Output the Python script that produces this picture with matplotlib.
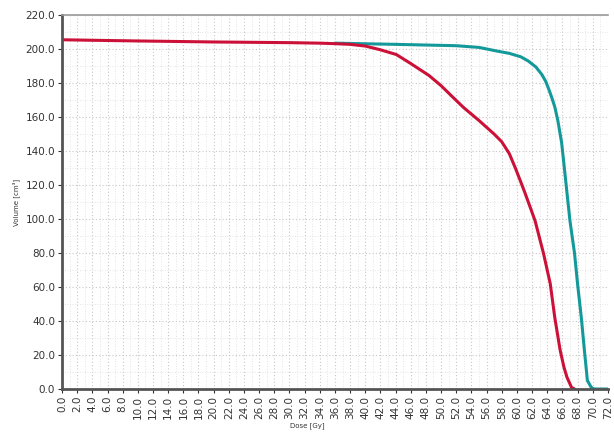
import matplotlib
matplotlib.use('Agg')
import matplotlib.pyplot as plt
from matplotlib.ticker import MultipleLocator, FormatStrFormatter

# dose (Gy) vs volume (cm3)
red_dose = [0, 4, 10, 20, 30, 34, 36, 38, 40, 42, 44.1, 46, 48.4, 50, 51.6, 53, 55, 57,
            58, 59, 59.8, 60.5, 61.1, 62.4, 63.5, 64.4, 65, 65.7, 66.2, 66.6, 67.2, 67.6]
red_vol = [205.5, 205.2, 204.8, 204.2, 203.8, 203.5, 203.2, 202.8, 201.8, 199.6, 196.8, 191.5,
           184.5, 178.5, 171.5, 165.5, 158, 150, 145.5, 138.5, 130, 122, 115, 99, 80, 62, 42,
           23, 13, 7, 1, 0]

teal_dose = [36, 44, 52, 55, 57.2, 59, 60.5, 61.5, 62.5, 63.3, 63.8, 64.2, 64.6, 65, 65.4,
             65.9, 66.3, 67, 67.6, 68, 68.5, 68.9, 69.3, 69.8, 70.2, 72]
teal_vol = [203.5, 202.8, 202, 201, 199, 197.5, 195.5, 193, 189.5, 185, 181, 176.5, 171.5,
            166, 158, 145, 128.4, 99, 80, 62, 42, 23, 5, 1, 0, 0]

x_ticks = [i * 2.0 for i in range(37)]
y_ticks = [i * 20.0 for i in range(12)]

fig = plt.figure(figsize=(6.14, 4.32), dpi=100)
ax = fig.add_axes([0.101, 0.0995, 0.889, 0.8655])

ax.plot(teal_dose, teal_vol, color='#14999a', lw=2.2, solid_capstyle='round',
        solid_joinstyle='round')
ax.plot(red_dose, red_vol, color='#cc1138', lw=2.2, solid_capstyle='round',
        solid_joinstyle='round')

ax.set_xlim(0, 72)
ax.set_ylim(0, 220)
ax.set_xticks(x_ticks)
ax.set_yticks(y_ticks)
ax.xaxis.set_minor_locator(MultipleLocator(1))
ax.yaxis.set_minor_locator(MultipleLocator(10))
ax.xaxis.set_major_formatter(FormatStrFormatter('%.1f'))
ax.yaxis.set_major_formatter(FormatStrFormatter('%.1f'))
ax.tick_params(axis='x', labelrotation=90, labelsize=7.5, length=3, pad=2, colors='#333333')
ax.tick_params(axis='y', labelsize=7.5, length=3, pad=2, colors='#333333')
ax.tick_params(which='minor', length=0)

ax.grid(True, which='major', color='#c8c8c8', ls=(0, (1, 2)), lw=0.8)
ax.grid(True, which='minor', color='#dcdcdc', ls=(0, (1, 2)), lw=0.6)
ax.set_axisbelow(True)

for s in ['left', 'bottom']:
    ax.spines[s].set_linewidth(2)
    ax.spines[s].set_color('#555555')
ax.spines['top'].set_color('#999999')
ax.spines['top'].set_linewidth(1.2)
ax.spines['right'].set_visible(False)

ax.set_xlabel('Dose [Gy]', fontsize=5, labelpad=1, color='#333333')
ax.set_ylabel('Volume [cm³]', fontsize=5, labelpad=4, color='#333333')
ax.xaxis.set_label_coords(0.45, -0.09)

plt.savefig('out.png', dpi=100)
